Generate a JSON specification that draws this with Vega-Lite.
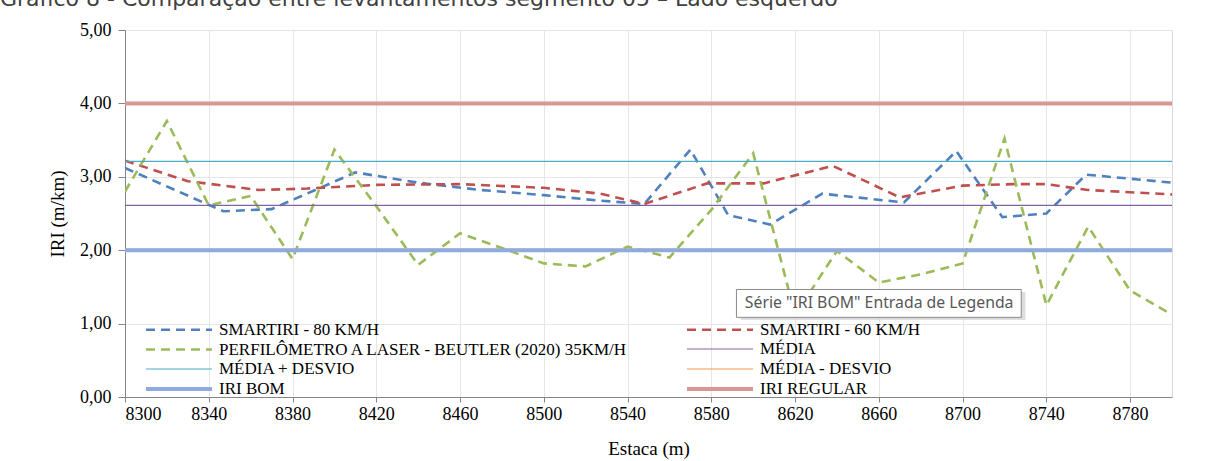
{
  "$schema": "https://vega.github.io/schema/vega-lite/v6.json",
  "autosize": {"type": "none"},
  "padding": {"left": 125, "top": 30, "right": 37, "bottom": 64},
  "width": 1047,
  "height": 367,
  "background": "white",
  "title": {
    "text": "Gráfico 8 - Comparação entre levantamentos segmento 05 – Lado esquerdo",
    "anchor": "start",
    "frame": "group",
    "dx": -125,
    "dy": -6,
    "font": "DejaVu Sans",
    "fontSize": 22,
    "fontWeight": "normal",
    "color": "#404040"
  },
  "datasets": {
    "series": [
      {"serie": "SMARTIRI - 80 KM/H", "estaca": 8300, "iri": 3.12},
      {"serie": "SMARTIRI - 80 KM/H", "estaca": 8347, "iri": 2.53},
      {"serie": "SMARTIRI - 80 KM/H", "estaca": 8370, "iri": 2.56},
      {"serie": "SMARTIRI - 80 KM/H", "estaca": 8410, "iri": 3.06},
      {"serie": "SMARTIRI - 80 KM/H", "estaca": 8440, "iri": 2.92},
      {"serie": "SMARTIRI - 80 KM/H", "estaca": 8470, "iri": 2.82},
      {"serie": "SMARTIRI - 80 KM/H", "estaca": 8500, "iri": 2.75},
      {"serie": "SMARTIRI - 80 KM/H", "estaca": 8525, "iri": 2.68},
      {"serie": "SMARTIRI - 80 KM/H", "estaca": 8548, "iri": 2.63},
      {"serie": "SMARTIRI - 80 KM/H", "estaca": 8570, "iri": 3.37},
      {"serie": "SMARTIRI - 80 KM/H", "estaca": 8588, "iri": 2.48},
      {"serie": "SMARTIRI - 80 KM/H", "estaca": 8608, "iri": 2.35},
      {"serie": "SMARTIRI - 80 KM/H", "estaca": 8633, "iri": 2.77},
      {"serie": "SMARTIRI - 80 KM/H", "estaca": 8672, "iri": 2.65},
      {"serie": "SMARTIRI - 80 KM/H", "estaca": 8697, "iri": 3.35},
      {"serie": "SMARTIRI - 80 KM/H", "estaca": 8719, "iri": 2.45},
      {"serie": "SMARTIRI - 80 KM/H", "estaca": 8740, "iri": 2.50},
      {"serie": "SMARTIRI - 80 KM/H", "estaca": 8759, "iri": 3.03},
      {"serie": "SMARTIRI - 80 KM/H", "estaca": 8800, "iri": 2.92},
      {"serie": "SMARTIRI - 60 KM/H", "estaca": 8300, "iri": 3.22},
      {"serie": "SMARTIRI - 60 KM/H", "estaca": 8330, "iri": 2.94},
      {"serie": "SMARTIRI - 60 KM/H", "estaca": 8364, "iri": 2.82},
      {"serie": "SMARTIRI - 60 KM/H", "estaca": 8387, "iri": 2.84},
      {"serie": "SMARTIRI - 60 KM/H", "estaca": 8420, "iri": 2.89},
      {"serie": "SMARTIRI - 60 KM/H", "estaca": 8460, "iri": 2.90},
      {"serie": "SMARTIRI - 60 KM/H", "estaca": 8500, "iri": 2.85},
      {"serie": "SMARTIRI - 60 KM/H", "estaca": 8527, "iri": 2.77},
      {"serie": "SMARTIRI - 60 KM/H", "estaca": 8548, "iri": 2.63},
      {"serie": "SMARTIRI - 60 KM/H", "estaca": 8578, "iri": 2.91},
      {"serie": "SMARTIRI - 60 KM/H", "estaca": 8605, "iri": 2.91},
      {"serie": "SMARTIRI - 60 KM/H", "estaca": 8638, "iri": 3.15},
      {"serie": "SMARTIRI - 60 KM/H", "estaca": 8670, "iri": 2.72},
      {"serie": "SMARTIRI - 60 KM/H", "estaca": 8700, "iri": 2.88},
      {"serie": "SMARTIRI - 60 KM/H", "estaca": 8724, "iri": 2.90},
      {"serie": "SMARTIRI - 60 KM/H", "estaca": 8740, "iri": 2.90},
      {"serie": "SMARTIRI - 60 KM/H", "estaca": 8760, "iri": 2.82},
      {"serie": "SMARTIRI - 60 KM/H", "estaca": 8800, "iri": 2.76},
      {"serie": "PERFILÔMETRO A LASER - BEUTLER (2020) 35KM/H", "estaca": 8300, "iri": 2.80},
      {"serie": "PERFILÔMETRO A LASER - BEUTLER (2020) 35KM/H", "estaca": 8320, "iri": 3.76},
      {"serie": "PERFILÔMETRO A LASER - BEUTLER (2020) 35KM/H", "estaca": 8340, "iri": 2.61},
      {"serie": "PERFILÔMETRO A LASER - BEUTLER (2020) 35KM/H", "estaca": 8360, "iri": 2.74},
      {"serie": "PERFILÔMETRO A LASER - BEUTLER (2020) 35KM/H", "estaca": 8380, "iri": 1.88},
      {"serie": "PERFILÔMETRO A LASER - BEUTLER (2020) 35KM/H", "estaca": 8400, "iri": 3.37},
      {"serie": "PERFILÔMETRO A LASER - BEUTLER (2020) 35KM/H", "estaca": 8420, "iri": 2.60},
      {"serie": "PERFILÔMETRO A LASER - BEUTLER (2020) 35KM/H", "estaca": 8440, "iri": 1.80},
      {"serie": "PERFILÔMETRO A LASER - BEUTLER (2020) 35KM/H", "estaca": 8460, "iri": 2.23},
      {"serie": "PERFILÔMETRO A LASER - BEUTLER (2020) 35KM/H", "estaca": 8480, "iri": 2.03},
      {"serie": "PERFILÔMETRO A LASER - BEUTLER (2020) 35KM/H", "estaca": 8500, "iri": 1.82},
      {"serie": "PERFILÔMETRO A LASER - BEUTLER (2020) 35KM/H", "estaca": 8520, "iri": 1.78},
      {"serie": "PERFILÔMETRO A LASER - BEUTLER (2020) 35KM/H", "estaca": 8540, "iri": 2.05},
      {"serie": "PERFILÔMETRO A LASER - BEUTLER (2020) 35KM/H", "estaca": 8560, "iri": 1.90},
      {"serie": "PERFILÔMETRO A LASER - BEUTLER (2020) 35KM/H", "estaca": 8580, "iri": 2.55},
      {"serie": "PERFILÔMETRO A LASER - BEUTLER (2020) 35KM/H", "estaca": 8600, "iri": 3.32},
      {"serie": "PERFILÔMETRO A LASER - BEUTLER (2020) 35KM/H", "estaca": 8620, "iri": 1.12},
      {"serie": "PERFILÔMETRO A LASER - BEUTLER (2020) 35KM/H", "estaca": 8640, "iri": 1.99},
      {"serie": "PERFILÔMETRO A LASER - BEUTLER (2020) 35KM/H", "estaca": 8660, "iri": 1.56},
      {"serie": "PERFILÔMETRO A LASER - BEUTLER (2020) 35KM/H", "estaca": 8680, "iri": 1.67},
      {"serie": "PERFILÔMETRO A LASER - BEUTLER (2020) 35KM/H", "estaca": 8700, "iri": 1.82},
      {"serie": "PERFILÔMETRO A LASER - BEUTLER (2020) 35KM/H", "estaca": 8720, "iri": 3.52},
      {"serie": "PERFILÔMETRO A LASER - BEUTLER (2020) 35KM/H", "estaca": 8740, "iri": 1.25},
      {"serie": "PERFILÔMETRO A LASER - BEUTLER (2020) 35KM/H", "estaca": 8760, "iri": 2.32},
      {"serie": "PERFILÔMETRO A LASER - BEUTLER (2020) 35KM/H", "estaca": 8780, "iri": 1.45},
      {"serie": "PERFILÔMETRO A LASER - BEUTLER (2020) 35KM/H", "estaca": 8800, "iri": 1.12},
      {"serie": "MÉDIA", "estaca": 8300, "iri": 2.61},
      {"serie": "MÉDIA", "estaca": 8800, "iri": 2.61},
      {"serie": "MÉDIA + DESVIO", "estaca": 8300, "iri": 3.21},
      {"serie": "MÉDIA + DESVIO", "estaca": 8800, "iri": 3.21},
      {"serie": "MÉDIA - DESVIO", "estaca": 8300, "iri": 2.01},
      {"serie": "MÉDIA - DESVIO", "estaca": 8800, "iri": 2.01},
      {"serie": "IRI BOM", "estaca": 8300, "iri": 2.0},
      {"serie": "IRI BOM", "estaca": 8800, "iri": 2.0},
      {"serie": "IRI REGULAR", "estaca": 8300, "iri": 4.0},
      {"serie": "IRI REGULAR", "estaca": 8800, "iri": 4.0}
    ],
    "tip": [
      {"x1": 8592, "x2": 8728, "y1": 1.085, "y2": 1.465, "label": "Série \"IRI BOM\" Entrada de Legenda", "tx": 8596, "ty": 1.28}
    ],
    "tipshadow": [
      {"x1": 8594, "x2": 8730, "y1": 1.05, "y2": 1.43}
    ]
  },
  "layer": [
    {
      "data": {"name": "series"},
      "mark": {"type": "line", "clip": true},
      "encoding": {
        "x": {
          "field": "estaca", "type": "quantitative",
          "scale": {"domain": [8300, 8800], "nice": false, "zero": false},
          "axis": {
            "title": "Estaca (m)",
            "values": [8300, 8340, 8380, 8420, 8460, 8500, 8540, 8580, 8620, 8660, 8700, 8740, 8780],
            "format": "d",
            "labelPadding": 3,
            "titlePadding": 16
          }
        },
        "y": {
          "field": "iri", "type": "quantitative",
          "scale": {"domain": [0, 5], "nice": false},
          "axis": {
            "title": "IRI (m/km)",
            "values": [0, 0.5, 1, 1.5, 2, 2.5, 3, 3.5, 4, 4.5, 5],
            "labelExpr": "replace(format(datum.value, '.2f'), '.', ',')",
            "tickSize": 7,
            "labelPadding": 7,
            "titlePadding": 12
          }
        },
        "color": {
          "field": "serie", "type": "nominal",
          "scale": {
            "domain": ["SMARTIRI - 80 KM/H", "SMARTIRI - 60 KM/H", "PERFILÔMETRO A LASER - BEUTLER (2020) 35KM/H", "MÉDIA", "MÉDIA + DESVIO", "MÉDIA - DESVIO", "IRI BOM", "IRI REGULAR"],
            "range": ["#4F81BD", "#C0504D", "#9BBB59", "#8064A2", "#4BACC6", "#F79646", "#8FAADC", "#D99694"]
          },
          "legend": {"title": null}
        },
        "strokeDash": {
          "field": "serie", "type": "nominal",
          "scale": {
            "domain": ["SMARTIRI - 80 KM/H", "SMARTIRI - 60 KM/H", "PERFILÔMETRO A LASER - BEUTLER (2020) 35KM/H", "MÉDIA", "MÉDIA + DESVIO", "MÉDIA - DESVIO", "IRI BOM", "IRI REGULAR"],
            "range": [[9, 6], [9, 6], [9, 6], [1, 0], [1, 0], [1, 0], [1, 0], [1, 0]]
          },
          "legend": {"title": null}
        },
        "strokeWidth": {
          "field": "serie", "type": "nominal",
          "scale": {
            "type": "ordinal",
            "domain": ["SMARTIRI - 80 KM/H", "SMARTIRI - 60 KM/H", "PERFILÔMETRO A LASER - BEUTLER (2020) 35KM/H", "MÉDIA", "MÉDIA + DESVIO", "MÉDIA - DESVIO", "IRI BOM", "IRI REGULAR"],
            "range": [2.6, 2.6, 2.6, 1.2, 1.2, 1.2, 4, 4]
          },
          "legend": {"title": null}
        },
        "order": {"field": "estaca", "type": "quantitative"}
      }
    },
    {
      "data": {"name": "tipshadow"},
      "mark": {"type": "rect", "fill": "#cfcfcf", "opacity": 0.7},
      "encoding": {
        "x": {"field": "x1", "type": "quantitative"},
        "x2": {"field": "x2"},
        "y": {"field": "y1", "type": "quantitative"},
        "y2": {"field": "y2"}
      }
    },
    {
      "data": {"name": "tip"},
      "mark": {"type": "rect", "fill": "white", "stroke": "#8a8a8a", "strokeWidth": 1},
      "encoding": {
        "x": {"field": "x1", "type": "quantitative"},
        "x2": {"field": "x2"},
        "y": {"field": "y1", "type": "quantitative"},
        "y2": {"field": "y2"}
      }
    },
    {
      "data": {"name": "tip"},
      "mark": {"type": "text", "align": "left", "baseline": "middle", "font": "Noto Sans", "fontSize": 15.8, "color": "#575757"},
      "encoding": {
        "x": {"field": "tx", "type": "quantitative"},
        "y": {"field": "ty", "type": "quantitative"},
        "text": {"field": "label"}
      }
    }
  ],
  "config": {
    "view": {"stroke": "#d9d9d9", "strokeWidth": 1},
    "axis": {
      "labelFont": "Liberation Serif",
      "labelFontSize": 18,
      "labelColor": "#000000",
      "titleFont": "Liberation Serif",
      "titleFontSize": 19,
      "titleFontWeight": "normal",
      "titleColor": "#000000",
      "gridColor": "#e6e6e6",
      "gridWidth": 1,
      "domainColor": "#868686",
      "tickColor": "#868686",
      "tickSize": 5
    },
    "legend": {
      "orient": "none",
      "legendX": 44,
      "legendY": 290,
      "direction": "horizontal",
      "columns": 2,
      "columnPadding": 51,
      "rowPadding": 2,
      "padding": 0,
      "symbolType": "M-4.125,0H4.125",
      "symbolSize": 256,
      "labelOffset": 30,
      "labelFont": "Liberation Serif",
      "labelFontSize": 17,
      "labelColor": "#000000",
      "labelLimit": 700
    }
  }
}
